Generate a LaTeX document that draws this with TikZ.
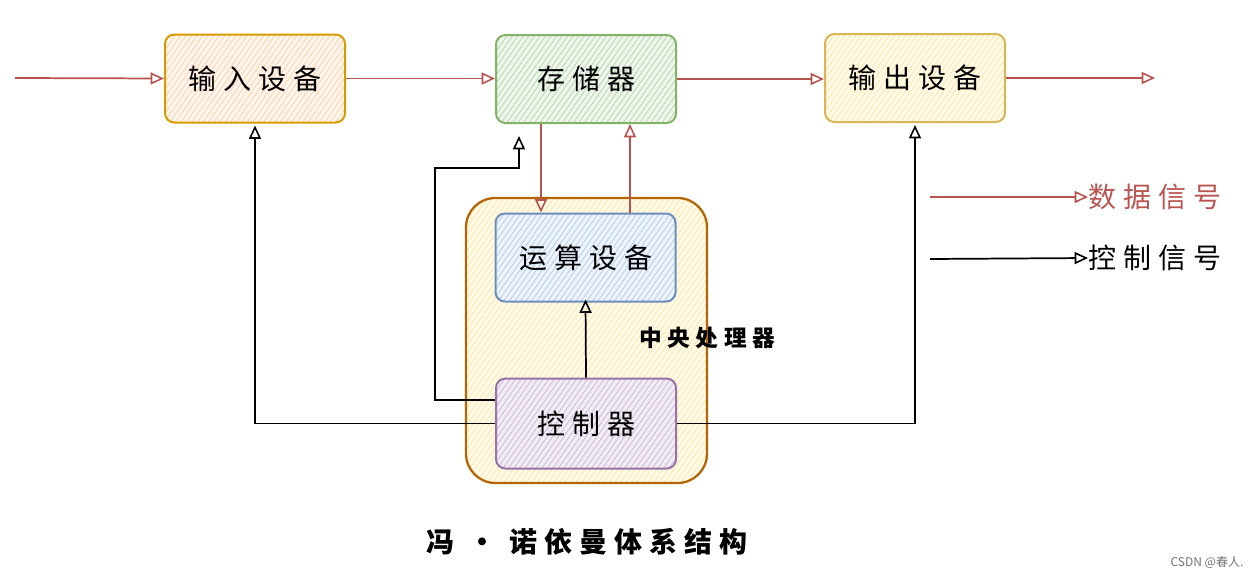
\documentclass[tikz,border=0pt]{standalone}
\usepackage{fontspec}
\setmainfont{Noto Sans CJK SC}
\newfontfamily\spaced[LetterSpace=25]{Noto Sans CJK SC}
\usetikzlibrary{arrows.meta,patterns.meta}
\newdimen\pxu \pxu=0.75pt
\definecolor{cOrange}{HTML}{D79B00}
\definecolor{fOrange}{HTML}{FFF5EC}
\definecolor{hOrange}{HTML}{FFD2A8}
\definecolor{cGreen}{HTML}{82B366}
\definecolor{fGreen}{HTML}{EEF6EC}
\definecolor{hGreen}{HTML}{B5D6AE}
\definecolor{cYellow}{HTML}{D6B656}
\definecolor{fYellow}{HTML}{FFFAEA}
\definecolor{hYellow}{HTML}{FFE7A0}
\definecolor{cBrown}{HTML}{B46504}
\definecolor{cBlue}{HTML}{6C8EBF}
\definecolor{fBlue}{HTML}{EEF4FD}
\definecolor{hBlue}{HTML}{B4CCEC}
\definecolor{cPurple}{HTML}{9673A6}
\definecolor{fPurple}{HTML}{F2ECF4}
\definecolor{hPurple}{HTML}{CDB9D6}
\definecolor{cRed}{HTML}{B85450}
\tikzset{
  unitbox/.style={draw=#1, line width=1.5pt, rounded corners=7pt, minimum width=180\pxu, minimum height=88\pxu, inner sep=0pt, font=\spaced\fontsize{21}{25}\selectfont},
  hatch/.style 2 args={preaction={fill=#1}, pattern={Lines[angle=55,distance=3.4pt,line width=0.6pt]}, pattern color=#2},
  dataarrow/.style={draw=cRed, line width=1.3pt, -{Triangle[open,length=10pt,width=9pt,line width=1.2pt]}},
  ctrlarrow/.style={draw=black, line width=1.3pt, -{Triangle[open,length=10pt,width=9pt,line width=1.2pt]}},
}
\begin{document}
\begin{tikzpicture}[x=0.75pt,y=-0.75pt]
\useasboundingbox (0,0) rectangle (1257,578);
% CPU container
\node[draw=cBrown, line width=1.7pt, rounded corners=22pt, minimum width=241\pxu, minimum height=285\pxu, hatch={fYellow}{hYellow}] (cpu) at (586.5,340.5) {};
% boxes
\node[unitbox=cOrange, hatch={fOrange}{hOrange}] (in) at (255,78.5) {输入设备};
\node[unitbox=cGreen, hatch={fGreen}{hGreen}] (mem) at (586,79) {存储器};
\node[unitbox=cYellow, hatch={fYellow}{hYellow}] (out) at (915,78) {输出设备};
\node[unitbox=cBlue, hatch={fBlue}{hBlue}] (alu) at (585.5,257.5) {运算设备};
\node[unitbox=cPurple, hatch={fPurple}{hPurple}, minimum height=90\pxu] (ctl) at (586,423.5) {控制器};
\node[font=\spaced\bfseries\fontsize{17}{20}\selectfont] (cpulabel) at (707,338) {中央处理器};
% free ends
\coordinate (src) at (15,78);
\coordinate (sink) at (1155,78);
% data arrows
\draw[dataarrow] (src) -- (in.west);
\draw[dataarrow] (in.east) -- (in.east -| mem.west);
\draw[dataarrow] (mem.east) -- (mem.east -| out.west);
\draw[dataarrow] (out.east) -- (sink);
\draw[dataarrow] (mem.south -| 541,0) -- (alu.north -| 541,0);
\draw[dataarrow] (alu.north -| 630,0) -- (mem.south -| 630,0);
% control arrows
\draw[ctrlarrow] (ctl.west) -- (ctl.west -| in.south) -- ([yshift=-2\pxu]in.south);
\draw[ctrlarrow] (ctl.west |- 0,400) -- (435,400) -- (435,168) -- (519,168) -- (519,136);
\draw[ctrlarrow] (ctl.north) -- ([yshift=3\pxu]alu.south);
\draw[ctrlarrow] (ctl.east) -- (ctl.east -| out.south) -- ([yshift=-2\pxu]out.south);
% legend
\coordinate (ld1) at (930,197);
\coordinate (ld2) at (930,259);
\node[anchor=west, text=cRed, font=\spaced\fontsize{21}{25}\selectfont, inner sep=0pt] (ldata) at (1088,197) {数据信号};
\node[anchor=west, font=\spaced\fontsize{21}{25}\selectfont, inner sep=0pt] (lctrl) at (1088,258) {控制信号};
\draw[dataarrow] (ld1) -- (ldata.west);
\draw[ctrlarrow] (ld2) -- (lctrl.west);
% title
\node[font=\spaced\bfseries\fontsize{21}{25}\selectfont] (title) at (587,542) {冯 • 诺依曼体系结构};
\node[text=black!55, font=\fontsize{9}{11}\selectfont] (credit) at (1207,562) {CSDN @春人.};
\end{tikzpicture}
\end{document}
